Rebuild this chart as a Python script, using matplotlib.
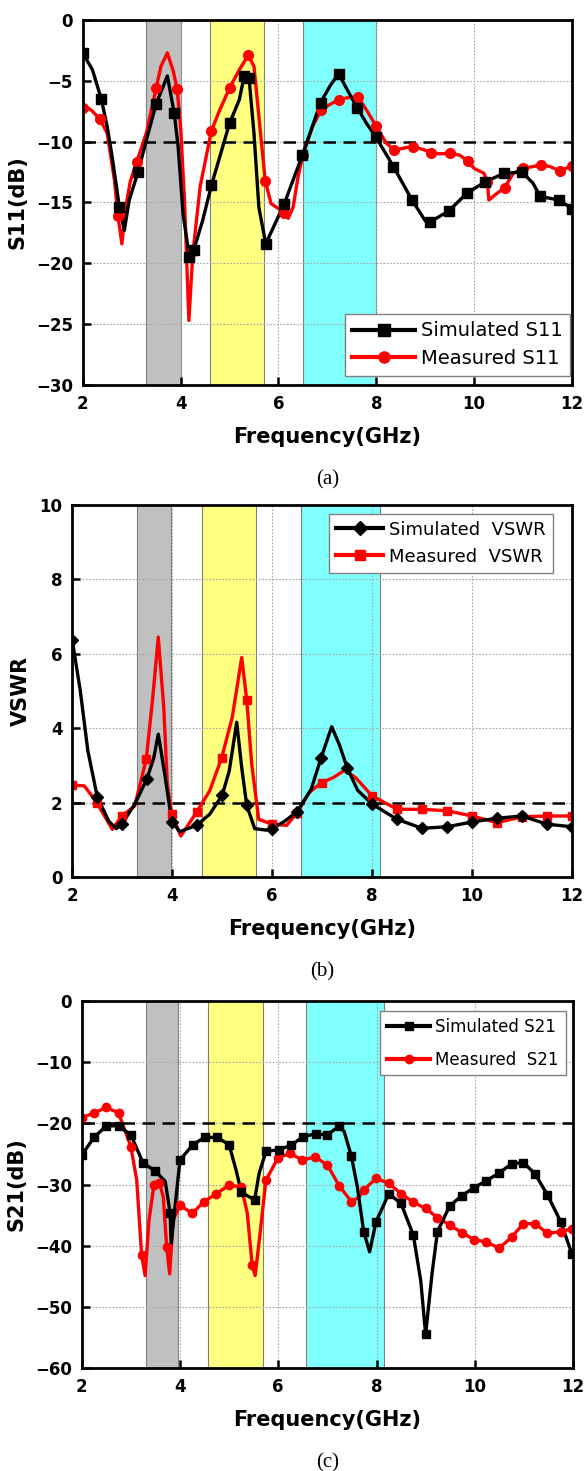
import matplotlib
matplotlib.use("Agg")
import matplotlib.pyplot as plt
from matplotlib.lines import Line2D

plt.rcParams['font.family'] = ['DejaVu Sans']
plt.rcParams['axes.unicode_minus'] = True

# ── (a) S11 ──────────────────────────────────────────────────
sim_s11_f = [2.0, 2.2, 2.38, 2.5, 2.6, 2.75, 2.85, 2.95, 3.13, 3.3, 3.5, 3.73, 3.87, 3.95,
             4.05, 4.18, 4.27, 4.45, 4.63, 5.0, 5.2, 5.3, 5.4, 5.5, 5.6, 5.74, 6.12, 6.49,
             6.86, 7.05, 7.23, 7.4, 7.61, 7.8, 7.99, 8.35, 8.73, 9.0, 9.1, 9.48, 9.86,
             10.23, 10.61, 10.98, 11.2, 11.35, 11.73, 12.0]
sim_s11_db = [-2.7, -4.1, -6.5, -8.75, -11.2, -15.4, -17.3, -14.8, -12.5, -9.9, -6.9, -4.6,
              -7.65, -10.4, -15.9, -19.5, -18.9, -16.5, -13.6, -8.5, -6.55, -4.6, -4.8, -9.3,
              -15.4, -18.4, -15.1, -11.1, -6.8, -5.45, -4.4, -5.7, -7.2, -8.5, -9.6, -12.05,
              -14.8, -16.5, -16.6, -15.7, -14.2, -13.3, -12.6, -12.5, -13.4, -14.5, -14.8, -15.5]
sim_s11_mk_f = [2.0, 2.38, 2.75, 3.13, 3.5, 3.87, 4.18, 4.27, 4.63, 5.0, 5.3, 5.4, 5.74,
                6.12, 6.49, 6.86, 7.23, 7.61, 7.99, 8.35, 8.73, 9.1, 9.48, 9.86, 10.23,
                10.61, 10.98, 11.35, 11.73, 12.0]
sim_s11_mk_db = [-2.7, -6.5, -15.4, -12.5, -6.9, -7.65, -19.5, -18.9, -13.6, -8.5, -4.6,
                 -4.8, -18.4, -15.1, -11.1, -6.8, -4.4, -7.2, -9.6, -12.05, -14.8, -16.6,
                 -15.7, -14.2, -13.3, -12.6, -12.5, -14.5, -14.8, -15.5]

meas_s11_f = [2.0, 2.1, 2.2, 2.35, 2.5, 2.65, 2.72, 2.8, 2.88, 2.97, 3.1, 3.3, 3.5, 3.6,
              3.73, 3.85, 3.93, 4.0, 4.08, 4.17, 4.25, 4.4, 4.63, 4.8, 5.0, 5.2, 5.38, 5.5,
              5.62, 5.73, 5.85, 6.0, 6.12, 6.2, 6.3, 6.4, 6.5, 6.7, 6.87, 7.05, 7.23, 7.4,
              7.62, 7.8, 8.0, 8.2, 8.37, 8.6, 8.75, 9.0, 9.12, 9.3, 9.5, 9.7, 9.87, 10.0,
              10.2, 10.27, 10.3, 10.45, 10.62, 10.8, 11.0, 11.2, 11.37, 11.55, 11.75, 12.0]
meas_s11_db = [-7.25, -7.2, -7.5, -8.15, -9.3, -13.2, -16.1, -18.4, -15.4, -13.3, -11.7,
               -9.3, -5.6, -3.8, -2.7, -4.2, -5.7, -8.75, -14.8, -24.7, -19.2, -13.7, -9.1,
               -7.4, -5.6, -4.1, -2.9, -3.8, -8.75, -13.2, -15.1, -15.5, -15.9, -16.3, -15.4,
               -12.9, -11.1, -8.75, -7.4, -6.95, -6.55, -6.4, -6.3, -7.4, -8.75, -10.1, -10.7,
               -10.5, -10.4, -10.7, -10.9, -11.0, -10.95, -11.1, -11.6, -12.2, -12.6, -13.3,
               -14.8, -14.3, -13.8, -12.6, -12.2, -12.05, -11.9, -12.05, -12.4, -12.0]
meas_s11_mk_f = [2.0, 2.35, 2.72, 3.1, 3.5, 3.93, 4.25, 4.63, 5.0, 5.38, 5.73, 6.12, 6.5,
                 6.87, 7.23, 7.62, 8.0, 8.37, 8.75, 9.12, 9.5, 9.87, 10.27, 10.62, 11.0,
                 11.37, 11.75, 12.0]
meas_s11_mk_db = [-7.25, -8.15, -16.1, -11.7, -5.6, -5.7, -19.0, -9.1, -5.6, -2.9, -13.2,
                  -15.9, -11.1, -7.4, -6.55, -6.3, -8.75, -10.7, -10.4, -10.9, -10.95, -11.6,
                  -13.3, -13.8, -12.2, -11.9, -12.4, -12.0]

# ── (b) VSWR ─────────────────────────────────────────────────
sim_vswr_f = [2.0, 2.16, 2.31, 2.5, 2.73, 2.88, 2.99, 3.25, 3.49, 3.63, 3.72, 3.85, 3.99,
              4.15, 4.49, 4.75, 5.0, 5.14, 5.29, 5.39, 5.49, 5.65, 5.88, 6.0, 6.25, 6.5,
              6.78, 6.98, 7.19, 7.34, 7.5, 7.71, 8.0, 8.5, 9.0, 9.5, 10.0, 10.5, 11.0,
              11.5, 12.0]
sim_vswr = [6.36, 5.0, 3.4, 2.15, 1.5, 1.3, 1.42, 1.96, 2.63, 3.2, 3.84, 2.76, 1.49, 1.22,
            1.39, 1.69, 2.2, 2.85, 4.16, 2.94, 1.93, 1.3, 1.26, 1.3, 1.5, 1.76, 2.36, 3.21,
            4.04, 3.57, 2.94, 2.33, 1.96, 1.55, 1.31, 1.35, 1.48, 1.58, 1.64, 1.42, 1.35]
sim_vswr_mk_f = [2.0, 2.5, 2.99, 3.49, 3.99, 4.49, 5.0, 5.49, 6.0, 6.5, 6.98, 7.5, 8.0,
                 8.5, 9.0, 9.5, 10.0, 10.5, 11.0, 11.5, 12.0]
sim_vswr_mk = [6.36, 2.15, 1.42, 2.63, 1.49, 1.39, 2.2, 1.93, 1.3, 1.76, 3.21, 2.94, 1.96,
               1.55, 1.31, 1.35, 1.48, 1.58, 1.64, 1.42, 1.35]

meas_vswr_f = [2.0, 2.24, 2.49, 2.8, 2.99, 3.25, 3.48, 3.61, 3.72, 3.83, 3.9, 3.99, 4.17,
               4.49, 4.75, 4.99, 5.2, 5.39, 5.49, 5.59, 5.73, 6.0, 6.29, 6.5, 6.74, 6.99,
               7.22, 7.45, 7.67, 8.0, 8.5, 9.0, 9.5, 10.0, 10.5, 11.0, 11.5, 12.0]
meas_vswr = [2.47, 2.45, 2.0, 1.28, 1.64, 1.91, 3.17, 4.83, 6.45, 4.56, 2.5, 1.7, 1.1, 1.75,
             2.32, 3.21, 4.29, 5.9, 4.76, 3.03, 1.55, 1.42, 1.39, 1.73, 2.27, 2.54, 2.67,
             2.87, 2.67, 2.18, 1.82, 1.82, 1.78, 1.64, 1.46, 1.62, 1.64, 1.64]
meas_vswr_mk_f = [2.0, 2.49, 2.99, 3.48, 3.99, 4.49, 4.99, 5.49, 6.0, 6.5, 6.99, 8.0, 8.5,
                  9.0, 9.5, 10.0, 10.5, 11.0, 11.5, 12.0]
meas_vswr_mk = [2.47, 2.0, 1.64, 3.17, 1.7, 1.75, 3.21, 4.76, 1.42, 1.73, 2.54, 2.18, 1.82,
                1.82, 1.78, 1.64, 1.46, 1.62, 1.64, 1.64]

# ── (c) S21 ──────────────────────────────────────────────────
sim_s21_f = [2.0, 2.25, 2.5, 2.75, 3.0, 3.25, 3.5, 3.7, 3.8, 3.82, 4.0, 4.26, 4.5, 4.76,
             5.0, 5.14, 5.25, 5.52, 5.61, 5.75, 6.01, 6.26, 6.5, 6.76, 7.0, 7.23, 7.34,
             7.49, 7.61, 7.74, 7.86, 7.99, 8.25, 8.5, 8.75, 8.9, 9.0, 9.13, 9.24, 9.49,
             9.74, 9.99, 10.23, 10.5, 10.75, 10.99, 11.23, 11.48, 11.75, 11.98]
sim_s21_db = [-25.2, -22.3, -20.4, -20.4, -21.9, -26.5, -27.8, -29.5, -34.7, -39.7, -26.0,
              -23.5, -22.3, -22.3, -23.5, -27.6, -31.3, -32.5, -28.2, -24.6, -24.3, -23.6,
              -22.2, -21.7, -21.9, -20.5, -21.3, -25.4, -30.4, -37.7, -41.0, -36.1, -31.5,
              -33.1, -38.3, -45.7, -54.5, -44.6, -37.7, -33.5, -31.8, -30.5, -29.4, -28.1,
              -26.6, -26.4, -28.3, -31.7, -36.1, -41.4]
sim_s21_mk_f = [2.0, 2.25, 2.5, 2.75, 3.0, 3.25, 3.5, 3.8, 4.0, 4.26, 4.5, 4.76, 5.0, 5.25,
                5.52, 5.75, 6.01, 6.26, 6.5, 6.76, 7.0, 7.23, 7.49, 7.74, 7.99, 8.25, 8.5,
                8.75, 9.0, 9.24, 9.49, 9.74, 9.99, 10.23, 10.5, 10.75, 10.99, 11.23, 11.48,
                11.75, 11.98]
sim_s21_mk_db = [-25.2, -22.3, -20.4, -20.4, -21.9, -26.5, -27.8, -34.7, -26.0, -23.5,
                 -22.3, -22.3, -23.5, -31.3, -32.5, -24.6, -24.3, -23.6, -22.2, -21.7, -21.9,
                 -20.5, -25.4, -37.7, -36.1, -31.5, -33.1, -38.3, -54.5, -37.7, -33.5, -31.8,
                 -30.5, -29.4, -28.1, -26.6, -26.4, -28.3, -31.7, -36.1, -41.4]

meas_s21_f = [2.0, 2.25, 2.5, 2.75, 3.0, 3.12, 3.22, 3.29, 3.37, 3.47, 3.58, 3.66, 3.73,
              3.79, 3.86, 4.0, 4.25, 4.49, 4.74, 5.0, 5.25, 5.37, 5.47, 5.53, 5.63, 5.75,
              5.99, 6.24, 6.49, 6.75, 7.0, 7.24, 7.49, 7.65, 7.74, 7.99, 8.25, 8.5, 8.75,
              9.0, 9.24, 9.49, 9.74, 9.99, 10.23, 10.5, 10.75, 10.99, 11.23, 11.48, 11.75,
              11.98]
meas_s21_db = [-19.1, -18.3, -17.4, -18.3, -23.8, -29.3, -41.6, -44.9, -35.8, -30.1, -29.7,
               -32.0, -40.2, -44.6, -35.8, -33.4, -34.7, -32.8, -31.5, -30.1, -30.4, -34.7,
               -43.2, -44.9, -38.0, -29.3, -25.7, -24.9, -26.0, -25.5, -26.8, -30.2, -32.8,
               -32.0, -30.9, -29.0, -29.8, -31.5, -32.9, -33.9, -35.4, -36.6, -37.9, -39.0,
               -39.4, -40.4, -38.6, -36.4, -36.4, -38.0, -37.7, -37.2]
meas_s21_mk_f = [2.0, 2.25, 2.5, 2.75, 3.0, 3.22, 3.47, 3.58, 3.73, 4.0, 4.25, 4.49, 4.74,
                 5.0, 5.25, 5.47, 5.75, 5.99, 6.24, 6.49, 6.75, 7.0, 7.24, 7.49, 7.74, 7.99,
                 8.25, 8.5, 8.75, 9.0, 9.24, 9.49, 9.74, 9.99, 10.23, 10.5, 10.75, 10.99,
                 11.23, 11.48, 11.75, 11.98]
meas_s21_mk_db = [-19.1, -18.3, -17.4, -18.3, -23.8, -41.6, -30.1, -29.7, -40.2, -33.4,
                  -34.7, -32.8, -31.5, -30.1, -30.4, -43.2, -29.3, -25.7, -24.9, -26.0,
                  -25.5, -26.8, -30.2, -32.8, -30.9, -29.0, -29.8, -31.5, -32.9, -33.9,
                  -35.4, -36.6, -37.9, -39.0, -39.4, -40.4, -38.6, -36.4, -36.4, -38.0,
                  -37.7, -37.2]

# shaded bands (GHz) per panel
bands_a = [(3.3, 4.0), (4.6, 5.7), (6.5, 8.0)]
bands_b = [(3.3, 3.97), (4.6, 5.67), (6.57, 8.15)]
bands_c = [(3.3, 3.96), (4.58, 5.68), (6.57, 8.15)]
band_colors = ["#c0c0c0", "#ffff80", "#80ffff"]

fig = plt.figure(figsize=(5.87, 14.71), dpi=100)
ax_a = fig.add_axes([0.1409, 0.7383, 0.8336, 0.2481])
ax_b = fig.add_axes([0.1232, 0.4038, 0.8513, 0.2529])
ax_c = fig.add_axes([0.1392, 0.0700, 0.8370, 0.2495])


def style_axes(ax, bands, ylim, yticks, ref, ylabel, tag):
    for (lo, hi), c in zip(bands, band_colors):
        ax.axvspan(lo, hi, color=c, ec="#808080", lw=0.8, zorder=0)
    ax.set_axisbelow("line")
    ax.axhline(ref, color="black", ls=(0, (5, 3)), lw=1.8, zorder=2)
    ax.set_xlim(2, 12)
    ax.set_ylim(*ylim)
    ax.set_xticks([2, 4, 6, 8, 10, 12])
    ax.set_yticks(yticks)
    ax.grid(True, color="#a8a8a8", ls=(0, (1.5, 1.5)), lw=0.8)
    ax.tick_params(direction="in", length=6, width=1.8, top=False, right=False, pad=7)
    for lbl in ax.get_xticklabels() + ax.get_yticklabels():
        lbl.set_fontsize(12)
        lbl.set_fontweight("bold")
    for s in ax.spines.values():
        s.set_linewidth(2)
        s.set_zorder(5)
    ax.set_xlabel("Frequency(GHz)", fontsize=15, fontweight="bold", labelpad=10)
    ax.set_ylabel(ylabel, fontsize=15, fontweight="bold", labelpad=6)
    ax.annotate(tag, xy=(0.5, 0), xycoords="axes fraction", xytext=(0, -68),
                textcoords="offset points", ha="center", va="center",
                fontsize=15, family="Liberation Serif")


def plot_series(ax, f, v, mf, mv, color, marker, ms):
    ax.plot(f, v, color=color, lw=2.4, zorder=3)
    ax.plot(mf, mv, ls="none", color=color, marker=marker, ms=ms, zorder=4)


leg_kw = dict(frameon=True, fancybox=False, edgecolor="#808080", framealpha=1,
              borderaxespad=0, handletextpad=0.3)

# (a)
style_axes(ax_a, bands_a, (-30, 0), [-30, -25, -20, -15, -10, -5, 0], -10, "S11(dB)", "(a)")
plot_series(ax_a, meas_s11_f, meas_s11_db, meas_s11_mk_f, meas_s11_mk_db, "red", "o", 7)
plot_series(ax_a, sim_s11_f, sim_s11_db, sim_s11_mk_f, sim_s11_mk_db, "black", "s", 6.5)
h_a = [Line2D([], [], color="black", lw=3, marker="s", ms=8),
       Line2D([], [], color="red", lw=3, marker="o", ms=8)]
ax_a.legend(h_a, ["Simulated S11", "Measured S11"], loc="lower right",
            bbox_to_anchor=(0.996, 0.025), fontsize=14, handlelength=3.2,
            labelspacing=0.45, **leg_kw).set_zorder(6)

# (b)
style_axes(ax_b, bands_b, (0, 10), [0, 2, 4, 6, 8, 10], 2, "VSWR", "(b)")
plot_series(ax_b, meas_vswr_f, meas_vswr, meas_vswr_mk_f, meas_vswr_mk, "red", "s", 6)
plot_series(ax_b, sim_vswr_f, sim_vswr, sim_vswr_mk_f, sim_vswr_mk, "black", "D", 6)
h_b = [Line2D([], [], color="black", lw=3, marker="D", ms=7),
       Line2D([], [], color="red", lw=3, marker="s", ms=7)]
ax_b.legend(h_b, ["Simulated  VSWR", "Measured  VSWR"], loc="upper right",
            bbox_to_anchor=(0.961, 0.977), fontsize=13, handlelength=2.6,
            labelspacing=0.5, **leg_kw).set_zorder(6)

# (c)
style_axes(ax_c, bands_c, (-60, 0), [-60, -50, -40, -30, -20, -10, 0], -20, "S21(dB)", "(c)")
plot_series(ax_c, meas_s21_f, meas_s21_db, meas_s21_mk_f, meas_s21_mk_db, "red", "o", 6)
plot_series(ax_c, sim_s21_f, sim_s21_db, sim_s21_mk_f, sim_s21_mk_db, "black", "s", 5.5)
h_c = [Line2D([], [], color="black", lw=3, marker="s", ms=6),
       Line2D([], [], color="red", lw=3, marker="o", ms=6)]
ax_c.legend(h_c, ["Simulated S21", "Measured  S21"], loc="upper right",
            bbox_to_anchor=(0.985, 0.973), fontsize=12, handlelength=2.6,
            labelspacing=0.9, **leg_kw).set_zorder(6)

fig.savefig("out.png", dpi=100)
